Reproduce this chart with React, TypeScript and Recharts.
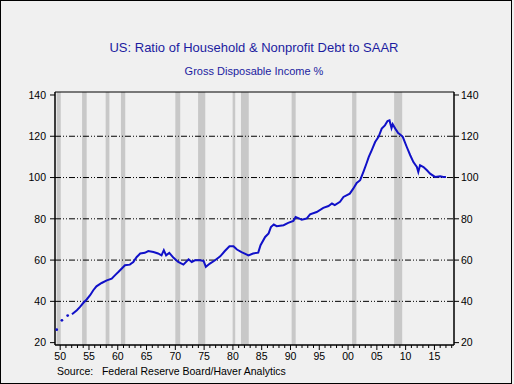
import React from "react";
import {
  ComposedChart,
  Line,
  XAxis,
  YAxis,
  ReferenceArea,
  ReferenceLine,
} from "recharts";

// Annual observations (plotted as dots)
const annualYears = [1949.4, 1950.3, 1951.3];
const annualValues = [26.3, 30.8, 33.1];

// Quarterly series: ratio of household & nonprofit debt to disposable income (%)
const qYears = [
  1952.05, 1952.9, 1953.45, 1954.0, 1954.6, 1955.2, 1955.75, 1956.3, 1957.2, 1958.1,
  1958.95, 1959.5, 1960.1, 1960.7, 1961.25, 1962.1, 1962.7, 1963.3, 1963.9, 1964.7,
  1965.3, 1966.2, 1967.0, 1967.6, 1968.0, 1968.4, 1968.95, 1969.65, 1970.5, 1971.4,
  1972.3, 1972.85, 1973.4, 1974.3, 1974.9, 1975.3, 1976.0, 1976.9, 1977.8, 1978.6,
  1979.4, 1980.1, 1980.7, 1981.5, 1982.7, 1983.5, 1984.4, 1984.8, 1985.6, 1986.2,
  1986.6, 1987.1, 1987.6, 1988.8, 1989.6, 1990.5, 1990.9, 1991.95, 1992.8, 1993.4,
  1994.55, 1995.7, 1996.6, 1997.2, 1997.7, 1998.6, 1999.2, 2000.3, 2000.9, 2001.5,
  2002.1, 2002.7, 2003.2, 2003.6, 2004.1, 2004.7, 2005.3, 2005.85, 2006.4, 2006.85,
  2007.2, 2007.55, 2007.75, 2008.2, 2008.7, 2009.0, 2009.5, 2010.2, 2010.8, 2011.35,
  2011.95, 2012.2, 2012.5, 2013.1, 2013.7, 2014.25, 2015.1, 2016.0, 2016.55, 2017.0,
];
const qValues = [
  33.7, 35.7, 37.3, 39.2, 40.9, 43.0, 45.4, 47.3, 48.9, 50.2,
  51.0, 52.6, 54.2, 55.9, 57.5, 57.8, 59.1, 61.5, 63.2, 63.5,
  64.4, 63.9, 63.2, 62.3, 64.8, 62.3, 63.5, 61.2, 59.1, 57.8,
  60.4, 59.1, 59.9, 59.9, 59.6, 56.7, 58.3, 59.9, 61.8, 64.4,
  66.7, 66.7, 65.1, 63.9, 62.3, 63.2, 63.6, 67.2, 71.2, 72.9,
  76.0, 77.2, 76.4, 76.9, 78.0, 79.0, 80.9, 79.6, 80.1, 82.2,
  83.3, 85.3, 86.2, 87.4, 86.6, 88.2, 90.6, 92.2, 94.6, 97.4,
  98.7, 103.0, 106.8, 110.0, 113.2, 117.2, 119.7, 123.7, 125.3, 127.4,
  127.7, 124.0, 125.8, 123.7, 121.6, 121.0, 119.7, 114.8, 110.8, 107.5,
  105.1, 102.7, 106.0, 105.1, 103.5, 101.9, 100.3, 100.6, 100.3, 100.3,
];

// Recession shading (start, end)
const recessionStart = [1949.4, 1953.8, 1957.9, 1960.55, 1970.0, 1973.95, 1979.95, 1981.4, 1990.2, 2000.7, 2008.0];
const recessionEnd = [1950.1, 1954.6, 1958.55, 1961.3, 1970.85, 1975.2, 1980.4, 1982.75, 1990.9, 2001.45, 2009.4];

const yTicks = [20, 40, 60, 80, 100, 120, 140];
const gridValues = [40, 60, 80, 100, 120];
const majorXTicks = [1950, 1955, 1960, 1965, 1970, 1975, 1980, 1985, 1990, 1995, 2000, 2005, 2010, 2015];
const majorXLabels = ["50", "55", "60", "65", "70", "75", "80", "85", "90", "95", "00", "05", "10", "15"];

const X_DOMAIN: [number, number] = [1949.1, 2018.4];
const Y_DOMAIN: [number, number] = [18.85, 141.45];

const allXTicks: number[] = [];
for (let y = 1950; y <= 2018; y++) allXTicks.push(y);

const annualData = annualYears.map((x, i) => ({ x, v: annualValues[i] }));
const quarterlyData = qYears.map((x, i) => ({ x, v: qValues[i] }));

const FONT = "'Liberation Sans', Arial, sans-serif";
const BLUE_TEXT = "#1c1ca0";
const LINE_BLUE = "#1010c8";

const XTick = (props: any) => {
  const { x, y, payload } = props;
  const v = payload.value as number;
  const idx = majorXTicks.indexOf(v);
  const major = idx >= 0;
  return (
    <g>
      <line x1={x} x2={x} y1={y} y2={y + (major ? 5 : 3)} stroke="#000" strokeWidth={1} />
      {major && (
        <text x={x} y={y + 15} textAnchor="middle" fontSize={10.5} fontFamily={FONT} fill="#000">
          {majorXLabels[idx]}
        </text>
      )}
    </g>
  );
};

export default function App() {
  return (
    <div
      style={{
        position: "fixed",
        left: 0,
        top: 0,
        width: 514,
        height: 384,
        background: "#f0f0f0",
        fontFamily: FONT,
      }}
    >
      <div
        style={{
          position: "absolute",
          left: 0,
          top: 0,
          width: 512,
          height: 384,
          boxSizing: "border-box",
          border: "1px solid #000",
        }}
      />
      <div
        style={{
          position: "absolute",
          left: 0,
          width: 508,
          top: 40,
          lineHeight: "15px",
          fontSize: 13,
          color: BLUE_TEXT,
          textAlign: "center",
        }}
      >
        US: Ratio of Household &amp; Nonprofit Debt to SAAR
      </div>
      <div
        style={{
          position: "absolute",
          left: 0,
          width: 508,
          top: 65,
          lineHeight: "13px",
          fontSize: 11,
          color: BLUE_TEXT,
          textAlign: "center",
        }}
      >
        Gross Disposable Income %
      </div>
      <div
        style={{
          position: "absolute",
          left: 57,
          top: 365,
          lineHeight: "13px",
          fontSize: 10.5,
          color: "#000",
          whiteSpace: "pre",
        }}
      >
        {"Source:   Federal Reserve Board/Haver Analytics"}
      </div>
      <div style={{ position: "absolute", left: 0, top: 0 }}>
        <ComposedChart
          width={514}
          height={384}
          margin={{ top: 92, right: 30, bottom: 19, left: 25 }}
        >
          <XAxis
            dataKey="x"
            type="number"
            domain={X_DOMAIN}
            ticks={allXTicks}
            interval={0}
            allowDataOverflow
            height={20}
            tickLine={false}
            tickSize={0}
            tickMargin={0}
            axisLine={{ stroke: "#000" }}
            tick={<XTick />}
          />
          <YAxis
            yAxisId="l"
            type="number"
            domain={Y_DOMAIN}
            ticks={yTicks}
            interval={0}
            allowDataOverflow
            width={30}
            tickSize={5}
            tickMargin={4}
            axisLine={{ stroke: "#000" }}
            tickLine={{ stroke: "#000" }}
            tick={{ fontSize: 10.5, fontFamily: FONT, fill: "#000" }}
          />
          <YAxis
            yAxisId="r"
            orientation="right"
            type="number"
            domain={Y_DOMAIN}
            ticks={yTicks}
            interval={0}
            allowDataOverflow
            width={30}
            tickSize={5}
            tickMargin={2}
            axisLine={{ stroke: "#000" }}
            tickLine={{ stroke: "#000" }}
            tick={{ fontSize: 10.5, fontFamily: FONT, fill: "#000" }}
          />
          {recessionStart.map((s, i) => (
            <ReferenceArea
              key={"rec" + i}
              yAxisId="l"
              x1={s}
              x2={recessionEnd[i]}
              y1={Y_DOMAIN[0]}
              y2={Y_DOMAIN[1]}
              fill="#c8c8c8"
              fillOpacity={1}
              stroke="none"
            />
          ))}
          {gridValues.map((g) => (
            <ReferenceLine
              key={"g" + g}
              yAxisId="l"
              y={g}
              stroke="#000"
              strokeWidth={1}
              strokeDasharray="6 2 1 2 1 2"
            />
          ))}
          <ReferenceArea
            yAxisId="l"
            x1={X_DOMAIN[0]}
            x2={X_DOMAIN[1]}
            y1={Y_DOMAIN[0]}
            y2={Y_DOMAIN[1]}
            fill="none"
            stroke="#000"
            strokeWidth={1}
          />
          <Line
            yAxisId="l"
            data={annualData}
            dataKey="v"
            stroke="none"
            dot={{ r: 1.4, fill: LINE_BLUE, stroke: "none" }}
            isAnimationActive={false}
            legendType="none"
          />
          <Line
            yAxisId="l"
            data={quarterlyData}
            dataKey="v"
            type="linear"
            stroke={LINE_BLUE}
            strokeWidth={2}
            dot={false}
            isAnimationActive={false}
          />
        </ComposedChart>
      </div>
    </div>
  );
}
